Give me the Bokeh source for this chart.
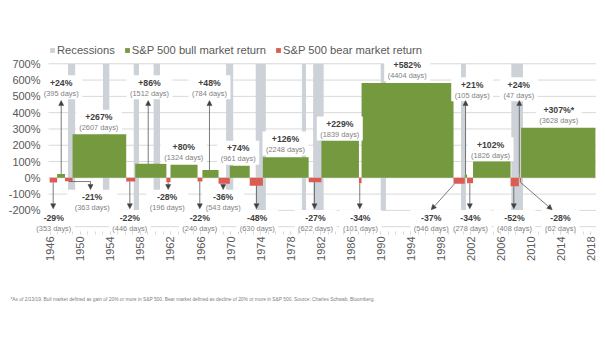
import math
from bokeh.plotting import figure
from bokeh.models import (Range1d, FixedTicker, Legend, LegendItem, Arrow, NormalHead,
                          Label, LabelSet, ColumnDataSource)
from bokeh.core.properties import value
from bokeh.embed import file_html
from bokeh.resources import INLINE

# ---------------- data (x in chart years) ----------------
bull_start = [1946.9, 1948.95, 1957.3, 1962.0, 1966.25, 1969.9, 1974.3, 1982.1, 1987.45, 2001.2, 2002.3, 2008.4, 2008.7]
bull_end = [1947.95, 1956.1, 1961.45, 1965.6, 1968.4, 1972.55, 1980.4, 1987.1, 1999.7, 2001.5, 2007.3, 2008.53, 2018.6]
bull_return = [24, 267, 86, 80, 48, 74, 126, 229, 582, 21, 102, 24, 307]
bull_days = [395, 2607, 1512, 1324, 784, 961, 2248, 1839, 4404, 105, 1826, 47, 3628]
bull_note = ["", "", "", "", "", "", "", "", "", "", "", "", "*"]

bear_start = [1945.9, 1947.95, 1956.1, 1961.45, 1965.6, 1968.4, 1972.55, 1980.4, 1987.1, 1999.7, 2001.5, 2007.3, 2008.53]
bear_end = [1946.9, 1948.95, 1957.3, 1962.0, 1966.25, 1969.9, 1974.3, 1982.1, 1987.45, 2001.2, 2002.3, 2008.4, 2008.7]
bear_return = [-29, -21, -22, -28, -22, -36, -48, -27, -34, -37, -34, -52, -28]
bear_days = [353, 363, 446, 196, 240, 543, 630, 622, 101, 546, 278, 408, 62]

rec_start = [1948.35, 1953.0, 1957.1, 1959.75, 1969.4, 1973.35, 1979.5, 1981.0, 1990.0, 2000.7, 2007.4]
rec_end = [1949.3, 1953.85, 1957.8, 1960.6, 1970.35, 1974.7, 1980.05, 1982.4, 1990.7, 2001.35, 2008.95]

year_ticks = list(range(1946, 2019, 4))
year_minor = list(range(1946, 2019))
pct_ticks = list(range(-300, 701, 100))

legend_names = ["Recessions", "S&P 500 bull market return", "S&P 500 bear market return"]
footnote = ("*As of 2/13/19. Bull market defined as gain of 20% or more in S&P 500. "
            "Bear market defined as decline of 20% or more in S&P 500. Source: Charles Schwab, Bloomberg.")

# ---------------- layout (plot area & callout positions) ----------------
PCT_PER_PX = 100 / 16.29
X_LEFT, X_RIGHT = 1945.75, 2018.7      # extent of the plotting area
Y_BOTTOM = -329.5                       # where the year axis sits

bull_lab_x = [1947.44, 1952.45, 1959.2, 1963.77, 1967.19, 1971.02, 1977.32, 1984.55, 1993.53, 2002.19, 2004.63, 2008.4, 2013.72]
bull_lab_y = [583, 372, 583, 188, 583, 182, 239, 331, 694, 571, 203, 571, 419]
bull_box_w = [42, 46, 46, 46, 42, 42, 46, 46, 46, 42, 46, 38, 46]
bull_arrow_x = [1947.44, None, 1959.03, None, 1967.19, None, None, None, None, 2001.3, None, 2008.46, None]
bull_arrow_tip = 474

bear_lab_x = [1946.45, 1951.57, 1956.58, 1961.56, 1965.9, 1969.02, 1973.55, 1981.31, 1987.3, 1996.73, 2001.96, 2007.82, 2013.95]
bear_lab_y = [-244, -119, -244, -119, -244, -119, -244, -244, -244, -244, -244, -244, -244]
bear_box_w = [42, 50, 42, 42, 42, 42, 42, 42, 42, 42, 42, 42, 38]
bear_arrow_x0 = [1946.37, 1951.34, 1956.58, 1961.69, 1965.9, 1969.02, 1973.45, 1981.18, 1987.21, 1999.83, 2001.87, 2007.73, 2008.62]
bear_arrow_x1 = [1946.37, 1951.34, 1956.58, 1961.69, 1965.9, 1969.02, 1973.45, 1981.18, 1987.21, 1996.73, 2001.87, 2007.73, 2012.84]
bear_arrow_y1 = [-190, -72, -190, -72, -190, -72, -190, -190, -190, -196, -190, -190, -196]
elbow_y = -23

GRAY = "#cdd2d9"
GREEN = "#74993e"
RED = "#da5c53"
TXT = "#595959"
GRID = "#d9d9d9"
FONT = "Liberation Sans"

# ---------------- figure ----------------
p = figure(width=605, height=341,
           x_range=Range1d(1939.353, 2019.944), y_range=Range1d(-1004.9, 1088.5),
           output_backend="svg", toolbar_location=None,
           min_border_left=0, min_border_right=0, min_border_top=0, min_border_bottom=0)
p.outline_line_color = None
p.background_fill_color = "white"
p.border_fill_color = "white"

# horizontal gridlines across the plotting area
p.segment(x0=[X_LEFT] * len(pct_ticks), x1=[X_RIGHT] * len(pct_ticks), y0=pct_ticks, y1=pct_ticks,
          line_color=GRID, line_width=1)

r_rec = p.quad(left=rec_start, right=rec_end, bottom=-200, top=700, fill_color=GRAY, line_color=None)
r_bull = p.quad(left=bull_start, right=bull_end, bottom=0, top=bull_return, fill_color=GREEN, line_color=None)
r_bear = p.quad(left=bear_start, right=bear_end, bottom=bear_return, top=0, fill_color=RED, line_color=None)

# label boxes (white) covering grid and recession bars
lab_x = bull_lab_x + bear_lab_x
lab_y = bull_lab_y + bear_lab_y
box_w = bull_box_w + bear_box_w
p.rect(x=lab_x, y=[y - 4.5 * PCT_PER_PX for y in lab_y], width=box_w, height=24,
       width_units="screen", height_units="screen", fill_color="white", line_color=None)

# elbow connector for the 1948-49 bear market
mid21 = (bear_start[1] + bear_end[1]) / 2
p.segment(x0=[mid21], y0=[elbow_y], x1=[bear_arrow_x0[1]], y1=[elbow_y], line_color=TXT, line_width=0.8)

# arrows
ax0, ay0, ax1, ay1 = [], [], [], []
for i, x in enumerate(bull_arrow_x):
    if x is not None:
        ax0.append(x); ay0.append(bull_return[i]); ax1.append(x); ay1.append(bull_arrow_tip)
for i in range(len(bear_return)):
    ax0.append(bear_arrow_x0[i])
    ay0.append(elbow_y if i == 1 else bear_return[i])
    ax1.append(bear_arrow_x1[i]); ay1.append(bear_arrow_y1[i])
arrow_src = ColumnDataSource(dict(x0=ax0, y0=ay0, x1=ax1, y1=ay1))
p.add_layout(Arrow(source=arrow_src, x_start="x0", y_start="y0", x_end="x1", y_end="y1",
                   line_color=TXT, line_width=0.8,
                   end=NormalHead(size=5, fill_color="#404040", line_color="#404040", line_width=0.5)))

# callout texts
val_text = [f"+{v}%{n}" for v, n in zip(bull_return, bull_note)] + [f"{v}%" for v in bear_return]
day_text = [f"({d} days)" for d in bull_days + bear_days]
src_val = ColumnDataSource(dict(x=lab_x, y=lab_y, t=val_text))
src_day = ColumnDataSource(dict(x=lab_x, y=[y - 10.5 * PCT_PER_PX for y in lab_y], t=day_text))
p.add_layout(LabelSet(x="x", y="y", text="t", source=src_val, text_align="center", text_baseline="middle",
                      text_font=value(FONT), text_font_size="8.7px", text_font_style="bold",
                      text_color="#404040"))
p.add_layout(LabelSet(x="x", y="y", text="t", source=src_day, text_align="center", text_baseline="middle",
                      text_font=value(FONT), text_font_size="7.4px", text_color="#7f7f7f"))

# legend
legend = Legend(items=[LegendItem(label=legend_names[0], renderers=[r_rec]),
                       LegendItem(label=legend_names[1], renderers=[r_bull]),
                       LegendItem(label=legend_names[2], renderers=[r_bear])],
                orientation="horizontal", location=(49, 285),
                glyph_width=6, glyph_height=6, label_standoff=2, spacing=9,
                padding=0, margin=0, border_line_color=None, background_fill_alpha=0,
                label_text_font=FONT, label_text_font_size="11.2px", label_text_color=TXT,
                label_height=6)
p.add_layout(legend)

# footnote
p.add_layout(Label(x=1940.68, y=-750, text=footnote, text_font=FONT, text_font_size="4.85px",
                   text_color="#808080", text_baseline="middle", text_align="left"))

# axes (placed at fixed positions inside the canvas)
p.yaxis.fixed_location = X_LEFT
p.yaxis.ticker = FixedTicker(ticks=pct_ticks)
p.yaxis.major_label_overrides = {t: ("" if t == -300 else f"{t}%") for t in pct_ticks}
p.yaxis.axis_line_color = None
p.yaxis.major_tick_line_color = None
p.yaxis.minor_tick_line_color = None
p.yaxis.major_tick_out = 0
p.yaxis.major_tick_in = 0
p.yaxis.major_label_standoff = 8
p.yaxis.major_label_text_font = FONT
p.yaxis.major_label_text_font_size = "11px"
p.yaxis.major_label_text_color = TXT

p.xaxis.fixed_location = Y_BOTTOM
p.xaxis.ticker = FixedTicker(ticks=year_ticks, minor_ticks=year_minor)
p.xaxis.axis_line_color = None
p.xaxis.major_tick_line_color = GRID
p.xaxis.minor_tick_line_color = GRID
p.xaxis.major_tick_out = 3
p.xaxis.major_tick_in = 0
p.xaxis.minor_tick_out = 3
p.xaxis.minor_tick_in = 0
p.xaxis.major_label_standoff = 2
p.xaxis.major_label_orientation = math.pi / 2
p.xaxis.major_label_text_font = FONT
p.xaxis.major_label_text_font_size = "11px"
p.xaxis.major_label_text_color = TXT

p.xgrid.grid_line_color = None
p.ygrid.grid_line_color = None

open("out.html", "w").write(file_html(p, INLINE))
